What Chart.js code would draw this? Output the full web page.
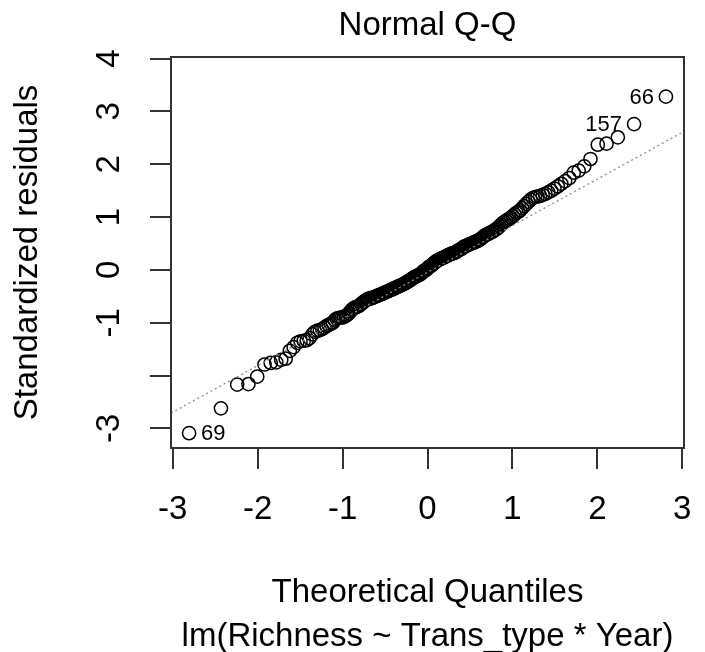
<!DOCTYPE html>
<html>
<head>
<meta charset="utf-8">
<title>Normal Q-Q</title>
<script src="https://cdn.jsdelivr.net/npm/chart.js@4.4.1/dist/chart.umd.min.js"></script>
<style>
  html, body { margin: 0; padding: 0; background: #fff; }
  #wrap { width: 705px; height: 652px; }
</style>
</head>
<body>
<div id="wrap"><canvas id="qq"></canvas></div>
<script>
// Theoretical quantiles (x) and sorted standardized residuals (y)
const xQuant = [
  -2.807,-2.432,-2.241,-2.108,-2.005,-1.919,-1.846,-1.780,-1.722,-1.670,
  -1.621,-1.576,-1.534,-1.495,-1.457,-1.422,-1.388,-1.356,-1.325,-1.296,
  -1.267,-1.240,-1.213,-1.188,-1.163,-1.138,-1.115,-1.092,-1.069,-1.047,
  -1.026,-1.005,-0.984,-0.964,-0.944,-0.925,-0.906,-0.887,-0.868,-0.850,
  -0.832,-0.815,-0.798,-0.780,-0.764,-0.747,-0.731,-0.714,-0.698,-0.683,
  -0.667,-0.651,-0.636,-0.620,-0.605,-0.590,-0.576,-0.561,-0.546,-0.532,
  -0.517,-0.503,-0.489,-0.475,-0.461,-0.447,-0.433,-0.420,-0.406,-0.392,
  -0.379,-0.366,-0.352,-0.339,-0.326,-0.312,-0.299,-0.286,-0.273,-0.260,
  -0.247,-0.234,-0.221,-0.208,-0.196,-0.183,-0.170,-0.157,-0.145,-0.132,
  -0.119,-0.107,-0.094,-0.082,-0.069,-0.056,-0.044,-0.031,-0.019,-0.006,
  0.006,0.019,0.031,0.044,0.056,0.069,0.082,0.094,0.107,0.119,
  0.132,0.145,0.157,0.170,0.183,0.196,0.208,0.221,0.234,0.247,
  0.260,0.273,0.286,0.299,0.312,0.326,0.339,0.352,0.366,0.379,
  0.392,0.406,0.420,0.433,0.447,0.461,0.475,0.489,0.503,0.517,
  0.532,0.546,0.561,0.576,0.590,0.605,0.620,0.636,0.651,0.667,
  0.683,0.698,0.714,0.731,0.747,0.764,0.780,0.798,0.815,0.832,
  0.850,0.868,0.887,0.906,0.925,0.944,0.964,0.984,1.005,1.026,
  1.047,1.069,1.092,1.115,1.138,1.163,1.188,1.213,1.240,1.267,
  1.296,1.325,1.356,1.388,1.422,1.457,1.495,1.534,1.576,1.621,
  1.670,1.722,1.780,1.846,1.919,2.005,2.108,2.241,2.432,2.807
];
const yResid = [
  -3.09,-2.62,-2.17,-2.16,-2.02,-1.79,-1.76,-1.75,-1.70,-1.68,
  -1.53,-1.46,-1.38,-1.35,-1.34,-1.33,-1.29,-1.22,-1.17,-1.15,
  -1.14,-1.12,-1.09,-1.06,-1.04,-1.02,-1.00,-0.95,-0.92,-0.91,
  -0.90,-0.90,-0.89,-0.87,-0.85,-0.82,-0.78,-0.75,-0.72,-0.71,
  -0.70,-0.69,-0.67,-0.64,-0.62,-0.60,-0.58,-0.56,-0.55,-0.54,
  -0.54,-0.53,-0.52,-0.51,-0.50,-0.49,-0.48,-0.47,-0.46,-0.45,
  -0.44,-0.43,-0.42,-0.41,-0.40,-0.39,-0.38,-0.37,-0.36,-0.35,
  -0.34,-0.33,-0.32,-0.31,-0.30,-0.29,-0.28,-0.27,-0.26,-0.25,
  -0.24,-0.22,-0.21,-0.20,-0.18,-0.17,-0.15,-0.14,-0.13,-0.12,
  -0.11,-0.10,-0.09,-0.08,-0.06,-0.04,-0.02,-0.01,0.00,0.02,
  0.04,0.06,0.07,0.08,0.10,0.12,0.14,0.15,0.17,0.18,
  0.19,0.20,0.21,0.22,0.23,0.24,0.25,0.26,0.27,0.28,
  0.29,0.30,0.31,0.32,0.32,0.33,0.34,0.36,0.37,0.38,
  0.39,0.41,0.43,0.44,0.45,0.46,0.47,0.48,0.49,0.50,
  0.51,0.52,0.53,0.54,0.55,0.56,0.58,0.60,0.62,0.64,
  0.66,0.67,0.68,0.70,0.71,0.72,0.74,0.76,0.78,0.80,
  0.83,0.86,0.89,0.91,0.93,0.95,0.97,0.99,1.02,1.05,
  1.08,1.10,1.13,1.17,1.21,1.25,1.29,1.33,1.36,1.38,
  1.39,1.40,1.42,1.44,1.47,1.50,1.54,1.58,1.63,1.68,
  1.74,1.84,1.88,1.96,2.10,2.37,2.39,2.51,2.76,3.28
];

// qqline (dotted reference line), ends at the plot edges
const refLineX = [-3.02, 3.02];
const refLineY = [-2.71, 2.62];

// labelled observations: index in sorted data, text, side
const labelIdx = [0, 198, 199];
const labelText = ['69', '157', '66'];
const labelSide = ['right', 'left', 'left'];

// axes
const xTicks = [-3, -2, -1, 0, 1, 2, 3];
const xTickLabels = ['-3', '-2', '-1', '0', '1', '2', '3'];
const yTicks = [-3, -2, -1, 0, 1, 2, 3, 4];
const yTickLabels = ['-3', '', '-1', '0', '1', '2', '3', '4'];

const titleText = 'Normal Q-Q';
const xTitle = 'Theoretical Quantiles';
const xSub = 'lm(Richness ~ Trans_type * Year)';
const yTitle = 'Standardized residuals';

const FONT = '"Liberation Sans", Arial, sans-serif';
const INK = '#333';

const points = xQuant.map((x, i) => ({ x: x, y: yResid[i] }));
const refLine = refLineX.map((x, i) => ({ x: x, y: refLineY[i] }));

// R-style box, tick labels, titles and point labels
const rDecor = {
    id: 'rDecor',
    afterDraw(chart) {
        const ctx = chart.ctx;
        const area = chart.chartArea;
        const xs = chart.scales.x;
        const ys = chart.scales.y;

        ctx.save();
        ctx.strokeStyle = INK;
        ctx.lineWidth = 2;
        ctx.strokeRect(area.left, area.top, area.right - area.left, area.bottom - area.top);

        ctx.fillStyle = '#000';
        ctx.font = '33px ' + FONT;
        ctx.textAlign = 'center';
        ctx.textBaseline = 'middle';

        // x tick labels
        xTicks.forEach((v, i) => {
            ctx.fillText(xTickLabels[i], xs.getPixelForValue(v), 510);
        });

        // y tick labels, rotated like R (parallel to axis)
        yTicks.forEach((v, i) => {
            if (!yTickLabels[i]) return;
            ctx.save();
            ctx.translate(110, ys.getPixelForValue(v));
            ctx.rotate(-Math.PI / 2);
            ctx.fillText(yTickLabels[i], 0, 0);
            ctx.restore();
        });

        // titles
        const midX = (area.left + area.right) / 2;
        ctx.fillText(titleText, midX, 26);
        ctx.fillText(xTitle, midX, 593);
        ctx.fillText(xSub, midX, 637);
        ctx.save();
        ctx.translate(28, (area.top + area.bottom) / 2);
        ctx.rotate(-Math.PI / 2);
        ctx.fillText(yTitle, 0, 0);
        ctx.restore();

        // point labels
        ctx.font = '22px ' + FONT;
        labelIdx.forEach((idx, i) => {
            const px = xs.getPixelForValue(xQuant[idx]);
            const py = ys.getPixelForValue(yResid[idx]);
            if (labelSide[i] === 'left') {
                ctx.textAlign = 'right';
                ctx.fillText(labelText[i], px - 12, py + 1);
            } else {
                ctx.textAlign = 'left';
                ctx.fillText(labelText[i], px + 12, py + 1);
            }
        });
        ctx.restore();
    }
};

new Chart(document.getElementById('qq'), {
    type: 'scatter',
    data: {
        datasets: [
            {
                label: 'qqline',
                type: 'line',
                data: refLine,
                borderColor: '#8c8c8c',
                borderWidth: 1.3,
                borderDash: [2, 3],
                pointRadius: 0,
                fill: false,
                order: 0
            },
            {
                label: 'residuals',
                data: points,
                pointStyle: 'circle',
                pointRadius: 6.6,
                pointHoverRadius: 6.6,
                pointBorderWidth: 1.5,
                borderColor: '#000',
                backgroundColor: 'rgba(0,0,0,0)',
                order: 1
            }
        ]
    },
    options: {
        responsive: true,
        maintainAspectRatio: false,
        animation: false,
        events: [],
        layout: { padding: { left: 0, top: 57, right: 21, bottom: 0 } },
        plugins: {
            legend: { display: false },
            tooltip: { enabled: false }
        },
        scales: {
            x: {
                type: 'linear',
                min: -3.02,
                max: 3.02,
                afterBuildTicks: s => { s.ticks = xTicks.map(v => ({ value: v })); },
                afterFit: s => { s.height = 204; },
                ticks: { display: false },
                border: { display: false },
                grid: {
                    drawOnChartArea: false,
                    drawTicks: true,
                    tickLength: 21,
                    color: INK,
                    lineWidth: 2
                }
            },
            y: {
                type: 'linear',
                min: -3.37,
                max: 4.03,
                afterBuildTicks: s => { s.ticks = yTicks.map(v => ({ value: v })); },
                afterFit: s => { s.width = 171; },
                ticks: { display: false },
                border: { display: false },
                grid: {
                    drawOnChartArea: false,
                    drawTicks: true,
                    tickLength: 21,
                    color: INK,
                    lineWidth: 2
                }
            }
        }
    },
    plugins: [rDecor]
});
</script>
</body>
</html>
